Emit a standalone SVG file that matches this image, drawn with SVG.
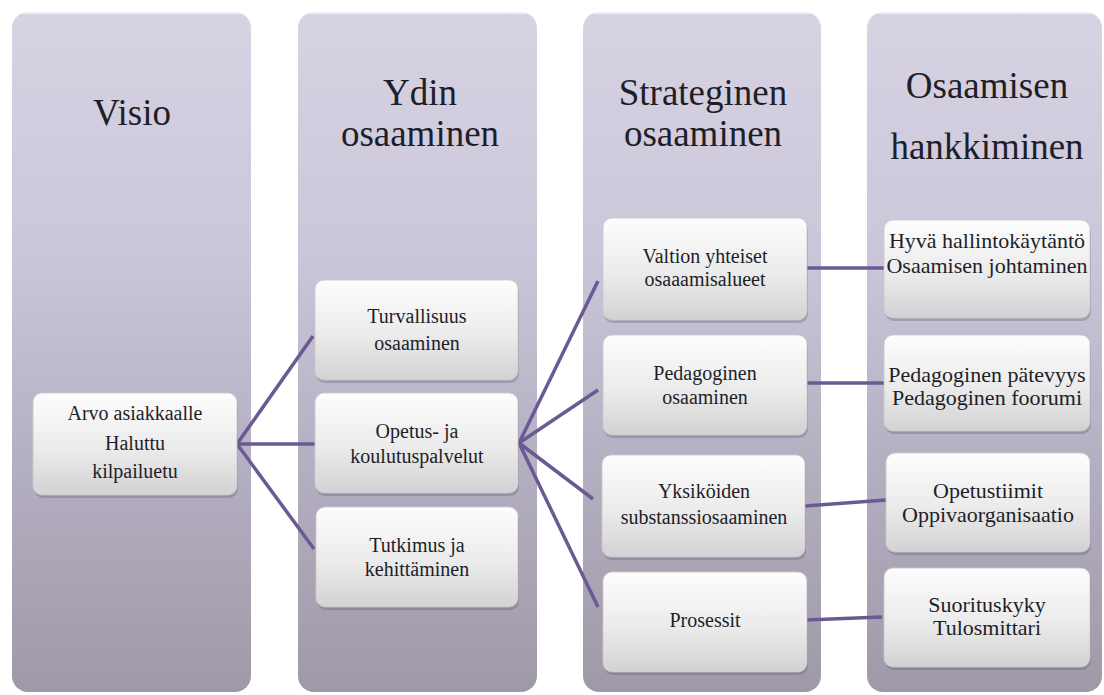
<svg xmlns="http://www.w3.org/2000/svg" width="1104" height="695" viewBox="0 0 1104 695">
<defs>
<linearGradient id="colGrad" x1="0" y1="0" x2="0" y2="1">
<stop offset="0" stop-color="#d7d3e3"/>
<stop offset="0.35" stop-color="#cbc6d9"/>
<stop offset="0.7" stop-color="#b2acbf"/>
<stop offset="1" stop-color="#9f99a7"/>
</linearGradient>
<linearGradient id="boxGrad" x1="0" y1="0" x2="0" y2="1">
<stop offset="0" stop-color="#fdfdfd"/>
<stop offset="0.55" stop-color="#ebebeb"/>
<stop offset="1" stop-color="#d2d2d4"/>
</linearGradient>
</defs>
<style>
.col{fill:url(#colGrad);}
.colhl{fill:none;stroke:#ffffff;stroke-opacity:0.8;stroke-width:1.5;}
.box{fill:url(#boxGrad);stroke:#c9c9cc;stroke-width:0.8;}
.sh{fill:#5a5266;fill-opacity:0.3;}
.ttl{font-family:'Liberation Serif',serif;font-size:37px;fill:#1e1e28;text-anchor:middle;}
.t{font-family:'Liberation Serif',serif;font-size:20px;fill:#1e1e28;text-anchor:middle;}
.t4{font-family:'Liberation Serif',serif;font-size:22px;fill:#1e1e28;text-anchor:middle;}
.conn{stroke:#6a5a93;stroke-width:3.5;fill:none;}
</style>
<rect width="1104" height="695" fill="#ffffff"/>

<g id="col-visio">
<rect class="col" x="12" y="12" width="239" height="680" rx="16"/>
<path class="colhl" d="M22,13 H241"/>
<text class="ttl" x="132" y="125">Visio</text>
</g>
<g id="col-ydin">
<rect class="col" x="298" y="12" width="239" height="680" rx="16"/>
<path class="colhl" d="M308,13 H527"/>
<text class="ttl" x="420" y="105">Ydin</text>
<text class="ttl" x="420" y="146">osaaminen</text>
</g>
<g id="col-strateginen">
<rect class="col" x="583" y="12" width="238" height="680" rx="16"/>
<path class="colhl" d="M593,13 H811"/>
<text class="ttl" x="703" y="105">Strateginen</text>
<text class="ttl" x="703" y="146">osaaminen</text>
</g>
<g id="col-hankkiminen">
<rect class="col" x="867" y="12" width="235" height="680" rx="16"/>
<path class="colhl" d="M877,13 H1092"/>
<text class="ttl" x="987" y="98">Osaamisen</text>
<text class="ttl" x="987" y="159">hankkiminen</text>
</g>

<g id="connectors">
<line class="conn" x1="237" y1="444" x2="313" y2="336"/>
<line class="conn" x1="237" y1="444" x2="315" y2="444"/>
<line class="conn" x1="237" y1="444" x2="314" y2="549"/>
<line class="conn" x1="519" y1="443" x2="598" y2="281"/>
<line class="conn" x1="519" y1="443" x2="598" y2="390"/>
<line class="conn" x1="519" y1="443" x2="593" y2="499"/>
<line class="conn" x1="519" y1="443" x2="598" y2="607"/>
<line class="conn" x1="806" y1="268" x2="884" y2="268"/>
<line class="conn" x1="806" y1="383" x2="884" y2="383"/>
<line class="conn" x1="805" y1="506" x2="886" y2="500"/>
<line class="conn" x1="806" y1="620" x2="882" y2="617"/>
</g>

<g id="n-arvo">
<rect class="sh" x="34" y="396" width="204" height="102" rx="9"/>
<rect class="box" x="33" y="393" width="204" height="102" rx="9"/>
<text class="t" x="135" y="420">Arvo asiakkaalle</text>
<text class="t" x="135" y="450">Haluttu</text>
<text class="t" x="135" y="478">kilpailuetu</text>
</g>
<g id="n-turvallisuus">
<rect class="sh" x="316" y="283" width="203" height="100" rx="9"/>
<rect class="box" x="315" y="280" width="203" height="100" rx="9"/>
<text class="t" x="417" y="323">Turvallisuus</text>
<text class="t" x="417" y="350">osaaminen</text>
</g>
<g id="n-opetus">
<rect class="sh" x="316" y="396" width="203" height="100" rx="9"/>
<rect class="box" x="315" y="393" width="203" height="100" rx="9"/>
<text class="t" x="417" y="438">Opetus- ja</text>
<text class="t" x="417" y="463">koulutuspalvelut</text>
</g>
<g id="n-tutkimus">
<rect class="sh" x="317" y="510" width="202" height="100" rx="9"/>
<rect class="box" x="316" y="507" width="202" height="100" rx="9"/>
<text class="t" x="417" y="552">Tutkimus ja</text>
<text class="t" x="417" y="576">kehittäminen</text>
</g>
<g id="n-valtion">
<rect class="sh" x="604" y="221" width="204" height="102" rx="9"/>
<rect class="box" x="603" y="218" width="204" height="102" rx="9"/>
<text class="t" x="705" y="263">Valtion yhteiset</text>
<text class="t" x="705" y="286">osaaamisalueet</text>
</g>
<g id="n-pedagoginen">
<rect class="sh" x="604" y="338" width="204" height="100" rx="9"/>
<rect class="box" x="603" y="335" width="204" height="100" rx="9"/>
<text class="t" x="705" y="380">Pedagoginen</text>
<text class="t" x="705" y="404">osaaminen</text>
</g>
<g id="n-yksikoiden">
<rect class="sh" x="603" y="458" width="203" height="102" rx="9"/>
<rect class="box" x="602" y="455" width="203" height="102" rx="9"/>
<text class="t" x="704" y="498">Yksiköiden</text>
<text class="t" x="704" y="524">substanssiosaaminen</text>
</g>
<g id="n-prosessit">
<rect class="sh" x="604" y="575" width="204" height="100" rx="9"/>
<rect class="box" x="603" y="572" width="204" height="100" rx="9"/>
<text class="t" x="705" y="627">Prosessit</text>
</g>
<g id="n-hyva">
<rect class="sh" x="885" y="223" width="206" height="98" rx="9"/>
<rect class="box" x="884" y="220" width="206" height="98" rx="9"/>
<text class="t4" x="987" y="248">Hyvä hallintokäytäntö</text>
<text class="t4" x="987" y="273">Osaamisen johtaminen</text>
</g>
<g id="n-pedagoginen-patevyys">
<rect class="sh" x="885" y="338" width="206" height="96" rx="9"/>
<rect class="box" x="884" y="335" width="206" height="96" rx="9"/>
<text class="t4" x="987" y="382">Pedagoginen pätevyys</text>
<text class="t4" x="987" y="405">Pedagoginen foorumi</text>
</g>
<g id="n-opetustiimit">
<rect class="sh" x="887" y="456" width="204" height="99" rx="9"/>
<rect class="box" x="886" y="453" width="204" height="99" rx="9"/>
<text class="t4" x="988" y="498">Opetustiimit</text>
<text class="t4" x="988" y="522">Oppivaorganisaatio</text>
</g>
<g id="n-suorituskyky">
<rect class="sh" x="885" y="571" width="206" height="99" rx="9"/>
<rect class="box" x="884" y="568" width="206" height="99" rx="9"/>
<text class="t4" x="987" y="612">Suorituskyky</text>
<text class="t4" x="987" y="635">Tulosmittari</text>
</g>
</svg>
